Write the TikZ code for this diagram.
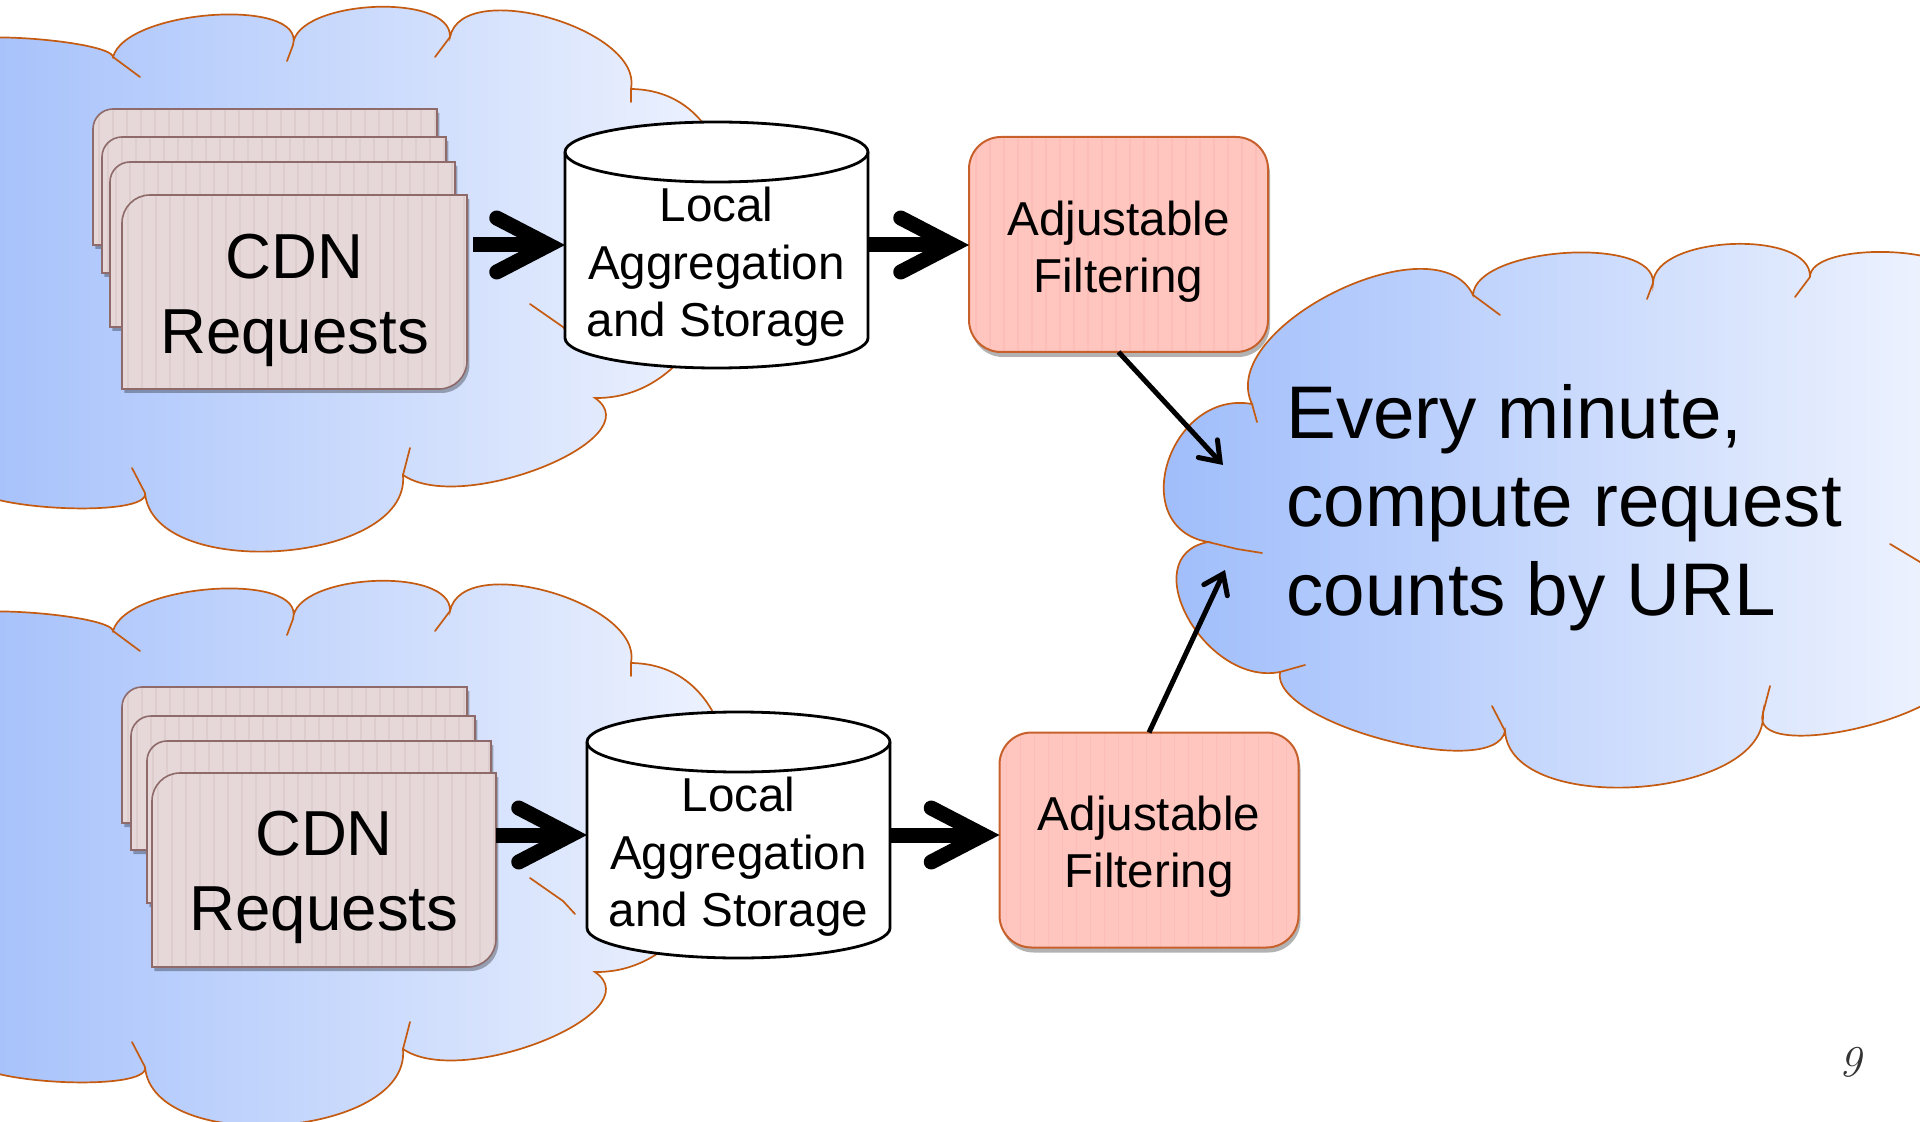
\documentclass[tikz,border=0pt]{standalone}
\usepackage{fontspec}
\newfontfamily\arialf{Liberation Sans}
\usetikzlibrary{calc,arrows.meta,shadows}

\definecolor{cloudline}{HTML}{C55A11}
\definecolor{cloudL}{HTML}{A4C0FB}
\definecolor{cloudR}{HTML}{F3F6FE}
\definecolor{cloudCL}{HTML}{9CBBFB}
\definecolor{cloudCR}{HTML}{F0F4FE}
\definecolor{cardfill}{HTML}{E6D8D8}
\definecolor{cardstripecol}{HTML}{DDCDCD}
\definecolor{cardline}{HTML}{8E6A6A}
\definecolor{boxfill}{HTML}{FFC6BF}
\definecolor{boxstripecol}{HTML}{FCBEB7}
\definecolor{boxline}{HTML}{C8602C}

\tikzset{
  bump/.style n args={3}{insert path={.. controls ($0.3333*#1+1.3333*#2-0.6667*#3$) and ($0.3333*#3+1.3333*#2-0.6667*#1$) .. #3}},
  cloudedge/.style={draw=cloudline, line width=0.85pt},
  cloudtail/.style={draw=cloudline, line width=0.85pt, line cap=round},
  cardbody/.style={fill=cardfill, drop shadow={shadow xshift=1.2pt, shadow yshift=-2pt, opacity=0.3, fill=black}},
  cardedge/.style={draw=cardline, line width=0.8pt},
  stripeline/.style={line width=0.7pt},
  bigarrow/.style={line width=7.5pt, -{Straight Barb[length=26pt, width=27pt, line cap=round, line join=miter]}},
  thinarrow/.style={line width=2.5pt, -{Straight Barb[length=9pt, width=13pt, line cap=round, line join=miter]}},
  filtbox/.style={rectangle, rounded corners=16pt, minimum width=149.5pt, minimum height=107.5pt, fill=boxfill, inner sep=0pt, outer sep=0pt, drop shadow={shadow xshift=1pt, shadow yshift=-2.5pt, opacity=0.3, fill=black}},
  anchorbox/.style={rectangle, inner sep=0pt, outer sep=0pt},
  cardtext/.style={font=\arialf\fontsize{31.8}{37.5}\selectfont, align=center, inner sep=0pt, anchor=north},
  cyltext/.style={font=\arialf\fontsize{23.8}{28.75}\selectfont, align=center, inner sep=0pt, anchor=north},
  filttext/.style={font=\arialf\fontsize{23.8}{28.5}\selectfont, align=center, inner sep=0pt, anchor=north},
  cloudtext/.style={font=\arialf\fontsize{37.3}{44.25}\selectfont, align=left, inner sep=0pt, anchor=north west},
}

\newcommand\cloudA{%
  \shadedraw[left color=cloudL, right color=cloudR, cloudedge]
    (-40,45) [bump={(-40,45)}{(35,39)}{(113,57)}]
    [bump={(113,57)}{(213,15)}{(293,45)}]
    [bump={(293,45)}{(373,7)}{(450,37)}]
    [bump={(450,37)}{(550,18)}{(631,89)}]
    [bump={(631,89)}{(730,245)}{(595,398)}]
    [bump={(595,398)}{(543,467)}{(403,475)}]
    [bump={(403,475)}{(280,551)}{(145,493)}]
    [bump={(145,493)}{(62,508)}{(-30,485)}] -- cycle;
  \draw[cloudtail] (113,57) -- (140,77);
  \draw[cloudtail] (293,45) -- (287,61);
  \draw[cloudtail] (450,37) -- (435,57);
  \draw[cloudtail] (631,89) -- (631,102);
  \draw[cloudtail] (530,304) -- (563,327) -- (575,340);
  \draw[cloudtail] (403,475) -- (410,448);
  \draw[cloudtail] (145,493) -- (132,468);
}

\newcommand\cardshape[5]{%
  \fill[cardbody] (#1,#4) -- (#1,{#2+#5}) arc[start angle=180,end angle=90,radius={#5*0.5pt}] -- (#3,#2) -- (#3,{#4-#5}) arc[start angle=0,end angle=-90,radius={#5*0.5pt}] -- cycle;
  \begin{scope}
    \clip (#1,#4) -- (#1,{#2+#5}) arc[start angle=180,end angle=90,radius={#5*0.5pt}] -- (#3,#2) -- (#3,{#4-#5}) arc[start angle=0,end angle=-90,radius={#5*0.5pt}] -- cycle;
    \foreach \sx in {6,20,...,348} \draw[cardstripecol, stripeline] ({#1+\sx},#2) -- ({#1+\sx},#4);
  \end{scope}
  \draw[cardedge] (#1,#4) -- (#1,{#2+#5}) arc[start angle=180,end angle=90,radius={#5*0.5pt}] -- (#3,#2) -- (#3,{#4-#5}) arc[start angle=0,end angle=-90,radius={#5*0.5pt}] -- cycle;
}

\newcommand\cylshape[3]{%
  \filldraw[fill=white, draw=black, line width=1.4pt] ({#1-151.5},#2) -- ({#1-151.5},#3) arc[start angle=180,end angle=360,x radius=75.75pt,y radius=15pt] -- ({#1+151.5},#2) arc[start angle=0,end angle=180,x radius=75.75pt,y radius=15pt] -- cycle;
  \draw[black, line width=1.4pt] ({#1-151.5},#2) arc[start angle=180,end angle=360,x radius=75.75pt,y radius=15pt];
}

\newcommand\boxstripes[1]{%
  \begin{scope}
    \clip[rounded corners=16pt] (#1.south west) rectangle (#1.north east);
    \foreach \sx in {7,21,...,299} \draw[boxstripecol, stripeline] ($(#1.north west)+(\sx,0)$) -- ($(#1.south west)+(\sx,0)$);
  \end{scope}
  \draw[boxline, line width=1pt, rounded corners=16pt] (#1.south west) rectangle (#1.north east);
}

\begin{document}
\begin{tikzpicture}[x=0.5pt,y=-0.5pt]
\useasboundingbox (0,0) rectangle (1920,1122);

% clouds
\cloudA
\begin{scope}[yshift=-287pt]
  \cloudA
\end{scope}

\shadedraw[left color=cloudCL, right color=cloudCR, cloudedge]
  (1252,404) [bump={(1252,404)}{(1335,292)}{(1473,295)}]
  [bump={(1473,295)}{(1565,253)}{(1653,283)}]
  [bump={(1653,283)}{(1733,244)}{(1810,277)}]
  [bump={(1810,277)}{(1885,252)}{(1960,280)}]
  -- (1960,672)
  [bump={(1960,672)}{(1850,730)}{(1763,713)}]
  [bump={(1763,713)}{(1638,787)}{(1505,731)}]
  [bump={(1505,731)}{(1385,740)}{(1280,672)}]
  [bump={(1280,672)}{(1188,618)}{(1208,542)}]
  [bump={(1208,542)}{(1168,462)}{(1252,404)}] -- cycle;
\draw[cloudtail] (1252,404) -- (1257,422);
\draw[cloudtail] (1473,295) -- (1500,315);
\draw[cloudtail] (1653,283) -- (1647,299);
\draw[cloudtail] (1810,277) -- (1795,297);
\draw[cloudtail] (1890,544) -- (1930,568);
\draw[cloudtail] (1763,713) -- (1770,686);
\draw[cloudtail] (1505,731) -- (1492,706);
\draw[cloudtail] (1280,672) -- (1305,665);
\draw[cloudtail] (1208,542) -- (1237,549) -- (1262,553);

% card stacks
\cardshape{93}{109}{437}{245}{20}
\cardshape{102}{137}{446}{273}{20}
\cardshape{110}{162}{455}{327}{20}
\cardshape{122}{195}{467}{389}{28}
\node[anchorbox, minimum width=172.5pt, minimum height=97pt] (cardsA) at (294.5,292) {};

\cardshape{122}{687}{467}{823}{20}
\cardshape{131}{716}{475}{850}{20}
\cardshape{147}{741}{491}{903}{20}
\cardshape{152}{773}{496}{967}{28}
\node[anchorbox, minimum width=172pt, minimum height=97pt] (cardsB) at (324,870) {};

% cylinders
\cylshape{716.5}{152}{338}
\node[anchorbox, minimum width=151.5pt, minimum height=123pt] (cylA) at (716.5,245) {};
\cylshape{738.5}{742}{928}
\node[anchorbox, minimum width=151.5pt, minimum height=123pt] (cylB) at (738.5,835) {};

% filter boxes
\node[filtbox] (filtA) at (1118.5,244.5) {};
\boxstripes{filtA}
\node[filtbox] (filtB) at (1149,840) {};
\boxstripes{filtB}

% arrows
\draw[bigarrow, shorten <=3pt] (cardsA.east |- cylA.west) -- (cylA.west);
\draw[bigarrow] (cylA.east) -- (cylA.east -| filtA.west);
\draw[bigarrow] (cardsB.east |- cylB.west) -- (cylB.west);
\draw[bigarrow] (cylB.east) -- (cylB.east -| filtB.west);

\coordinate (cin1) at (1223,465);
\coordinate (cin2) at (1225,570);
\draw[thinarrow] (filtA.south) -- (cin1);
\draw[thinarrow] (filtB.north) -- (cin2);

% texts
\node[cardtext] (cardsAtxt) at (294.5,233.6) {CDN\\Requests};
\node[cardtext] (cardsBtxt) at (324,811) {CDN\\Requests};
\node[cyltext] (cylAtxt) at (716.5,186.7) {Local\\Aggregation\\and Storage};
\node[cyltext] (cylBtxt) at (738.5,776.7) {Local\\Aggregation\\and Storage};
\node[filttext] (filtAtxt) at (1118.5,201) {Adjustable\\Filtering};
\node[filttext] (filtBtxt) at (1149,796) {Adjustable\\Filtering};
\node[cloudtext] (cloudCtxt) at (1286,384) {Every minute,\\compute request\\counts by URL};

\node[font=\fontsize{22}{26}\selectfont\itshape, text=black!80, inner sep=0pt] (pagenum) at (1850,1062) {9};
\end{tikzpicture}
\end{document}
